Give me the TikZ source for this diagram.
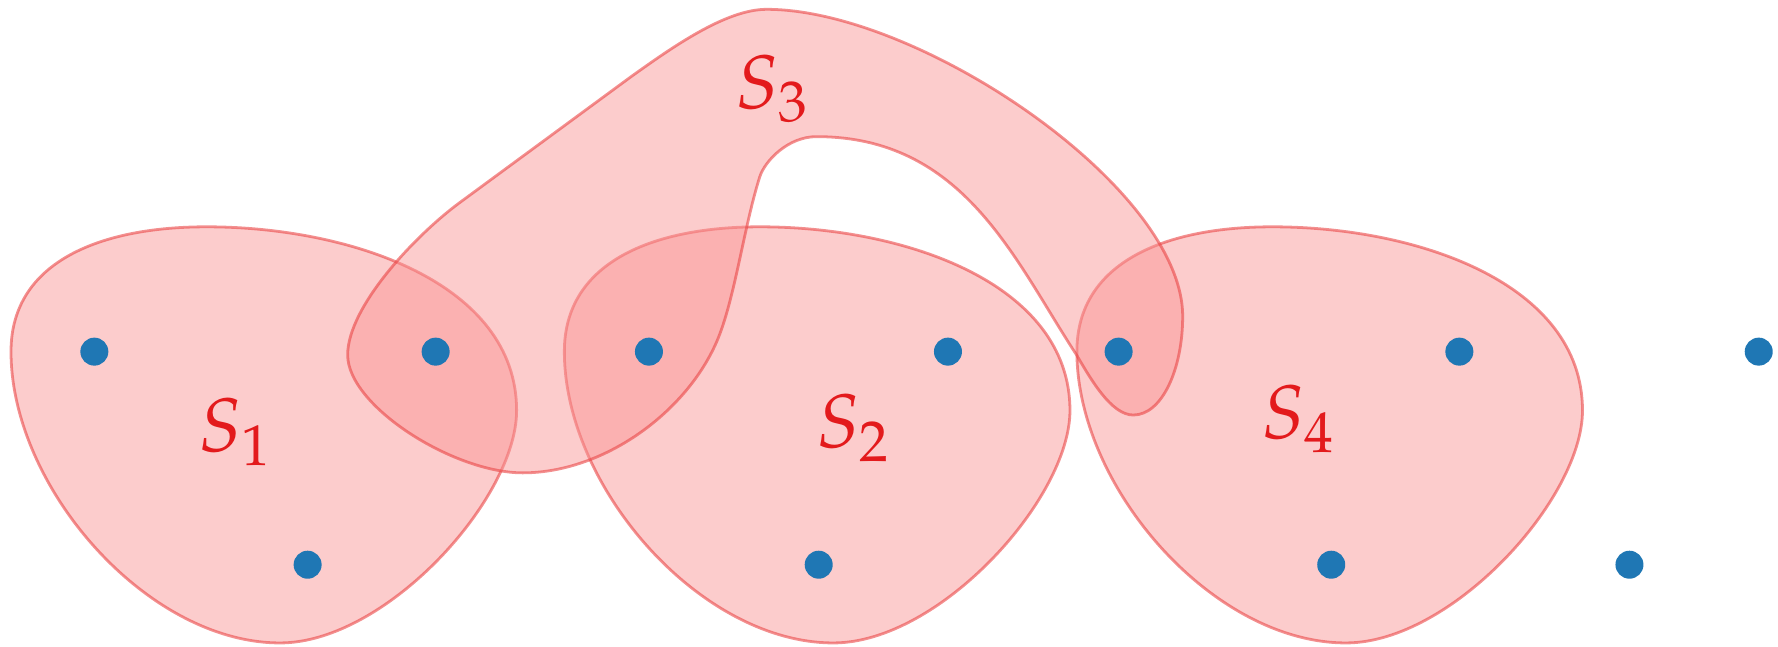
\documentclass[tikz,border=0pt]{standalone}
\usepackage{mathpazo}
\definecolor{blobfill}{RGB}{249,148,148}
\definecolor{blobline}{RGB}{234,70,70}
\definecolor{dotblue}{RGB}{31,119,180}
\definecolor{labred}{RGB}{227,26,28}
\newcommand\myblobpath{(182,200) .. controls (90,200) and (9.7,230) .. (9.7,310)
 .. controls (9.7,430) and (130,567) .. (247,567)
 .. controls (340,567) and (455.6,440) .. (455.6,362)
 .. controls (455.6,250) and (310,200) .. cycle}
\tikzset{
  blob/.style={fill=blobfill, fill opacity=0.48, draw=blobline, draw opacity=0.6, line width=0.7pt},
  dotnode/.style={circle, fill=dotblue, draw=none, inner sep=0pt, minimum size=2.47mm},
  setlabel/.style={text=labred, inner sep=0pt, anchor=base west, font=\fontsize{19}{23}\selectfont}
}
\begin{document}
\begin{tikzpicture}[x=0.1mm, y=-0.1mm]
\useasboundingbox (0,0) rectangle (1568,570);
% blobs S1, S2, S4
\path[blob] \myblobpath;
\begin{scope}[xshift=48.8mm]
\path[blob] \myblobpath;
\end{scope}
\begin{scope}[xshift=94mm]
\path[blob] \myblobpath;
\end{scope}
% S3
\path[blob] (306.6,313) .. controls (306.6,270) and (368,205.4) .. (408.5,176.4)
 -- (556,68)
 .. controls (592.5,41.9) and (640,8.2) .. (676,8.2)
 .. controls (810,8.2) and (1043,165) .. (1043,279)
 .. controls (1043,325) and (1025,366) .. (999.4,366)
 .. controls (980,366) and (962,334.5) .. (949.4,313)
 .. controls (894.4,229) and (850,120.5) .. (720,120.5)
 .. controls (695,120.5) and (674.5,141.8) .. (670,156)
 .. controls (656.5,198.8) and (649,256.4) .. (635,294)
 .. controls (610.5,359.8) and (535,417) .. (461,417)
 .. controls (400,417) and (306.6,358) .. cycle;
% points
\node[dotnode] (p1) at (83.2,310.1) {};
\node[dotnode] (p2) at (384.2,310.1) {};
\node[dotnode] (p3) at (271.3,498) {};
\node[dotnode] (p4) at (572.3,310.1) {};
\node[dotnode] (p5) at (836,310.1) {};
\node[dotnode] (p6) at (722,498) {};
\node[dotnode] (p7) at (986.5,310.1) {};
\node[dotnode] (p8) at (1287,310.1) {};
\node[dotnode] (p9) at (1174,498) {};
\node[dotnode] (p10) at (1551,310.1) {};
\node[dotnode] (p11) at (1437,498) {};
% labels
\node[setlabel] (l1) at (174,398) {$S_1$};
\node[setlabel] (l2) at (719,395) {$S_2$};
\node[setlabel] (l3) at (648,95.5) {$S_3$};
\node[setlabel] (l4) at (1112,386.5) {$S_4$};
\end{tikzpicture}
\end{document}
